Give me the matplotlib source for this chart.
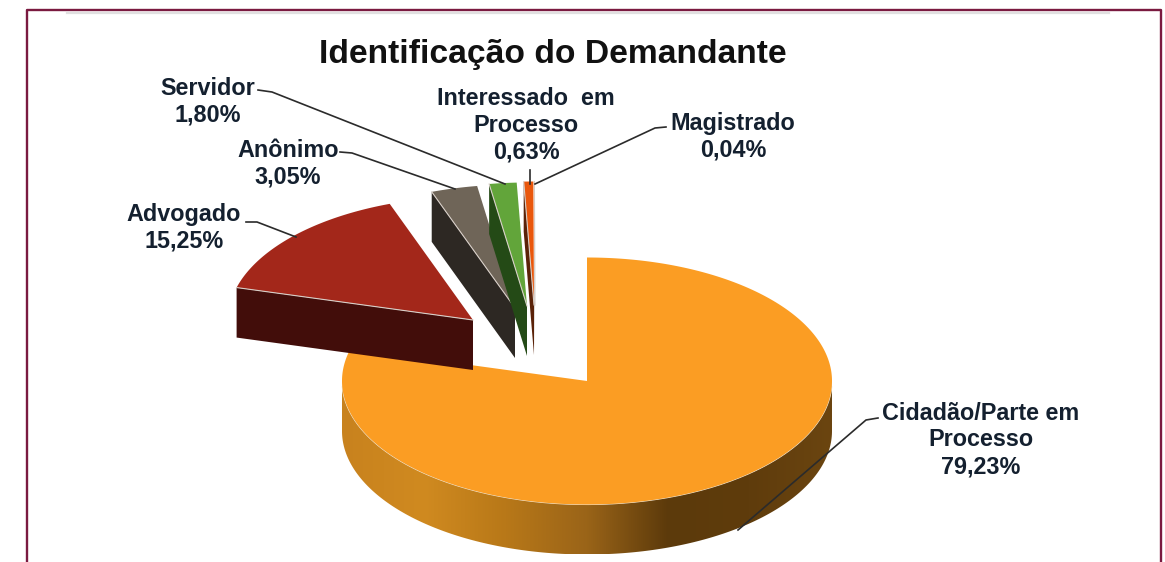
import numpy as np
import matplotlib
matplotlib.use("Agg")
import matplotlib.pyplot as plt
from matplotlib.colors import LinearSegmentedColormap
from matplotlib.patches import Polygon

labels = ["Cidadão/Parte em\nProcesso", "Advogado", "Anônimo", "Servidor", "Interessado  em\nProcesso", "Magistrado"]
values = [79.23, 15.25, 3.05, 1.80, 0.63, 0.04]

top_colors = ["#FB9D23", "#A3271A", "#6F6558", "#62A53A", "#E9570C", "#B9B2AA"]
side_colors = ["#B87818", "#420D0A", "#2D2823", "#244A16", "#5A2208", "#6A5A50"]

# apex of each exploded slice, in figure pixels
apex_x = [587, 473, 515, 527, 534, 535]
apex_y = [381, 320, 308, 306, 305, 305]

# where the labels and their leader lines go
label_x = [981, 184, 288, 208, 526, 733]
label_y = [440, 228, 164, 102, 125, 137]
leaders = [
    ([878, 866, 738], [418, 420, 530]),
    ([246, 257, 296], [222, 222, 237]),
    ([340, 352, 455], [152, 153, 189]),
    ([258, 272, 505], [90, 92, 184]),
    ([530, 530], [170, 184]),
    ([666, 655, 535], [127, 128, 184]),
]

RX = 245
RY = 123.5
DEPTH = 50
FRAME = "#7A1A40"

plt.rcParams["font.family"] = ["Liberation Sans", "DejaVu Sans"]


def rim(cx, cy, a0, a1, n=200):
    t = np.radians(np.linspace(a0, a1, n))
    return cx + RX * np.cos(t), cy - RY * np.sin(t)


def draw_slice(ax, i, a0, a1):
    # angles run clockwise from the top like the original chart
    cx, cy = apex_x[i], apex_y[i]
    xs, ys = rim(cx, cy, a0, a1, max(int(a0 - a1) * 2, 3))

    # cut face on the a0 side, seen only for the slices at the top left
    if i > 0:
        face = [(xs[0], ys[0]), (cx, cy), (cx, cy + DEPTH), (xs[0], ys[0] + DEPTH)]
        ax.add_patch(Polygon(face, closed=True, fc=side_colors[i], ec="none", zorder=2 + i))

    if i == 0:
        # outer wall, gradient clipped to the front part of the rim
        fx, fy = rim(cx, cy, -180, 0)
        wall = np.r_[np.c_[fx, fy], np.c_[fx[::-1], fy[::-1] + DEPTH]]
        clip = Polygon(wall, closed=True, fc="none", ec="none", transform=ax.transData)
        ax.add_patch(clip)
        cmap = LinearSegmentedColormap.from_list(
            "wall", ["#C8821E", "#D08A20", "#B87818", "#9A6418", "#5C3A0B", "#5F3C0C", "#6B4510"]
        )
        grad = np.linspace(0, 1, 256).reshape(1, -1)
        im = ax.imshow(grad, cmap=cmap, aspect="auto", zorder=1,
                       extent=(cx - RX, cx + RX, cy + RY + DEPTH, cy - RY))
        im.set_clip_path(clip)
        ax.plot(fx[3:-3], fy[3:-3], color="#EFE6D6", lw=0.8, zorder=1.6)

    top = np.r_[[(cx, cy)], np.c_[xs, ys]]
    ax.add_patch(Polygon(top, closed=True, fc=top_colors[i], ec="none", zorder=2.5 + i))
    if i > 0:
        ax.plot([xs[0], cx], [ys[0], cy], color="#D8CFC8", lw=0.8, zorder=2.6 + i)


fig = plt.figure(figsize=(11.65, 5.62), dpi=100)
ax = fig.add_axes([0, 0, 1, 1])

start = 90.0
for i, v in enumerate(values):
    end = start - v * 3.6
    draw_slice(ax, i, start, end)
    start = end

for i, name in enumerate(labels):
    pct = f"{values[i]:.2f}".replace(".", ",") + "%"
    ax.text(label_x[i], label_y[i], name + "\n" + pct, ha="center", va="center",
            fontsize=16.8, fontweight="bold", color="#14202F", linespacing=1.2, zorder=20)
    ax.plot(leaders[i][0], leaders[i][1], color="#2B2B2B", lw=1.2, zorder=15)

ax.text(553, 54, "Identificação do Demandante", ha="center", va="center",
        fontsize=24.2, fontweight="bold", color="#111111", zorder=20)

# frame around the slide, open at the bottom
ax.plot([27, 27, 1161, 1161], [562, 9.5, 9.5, 562], color=FRAME, lw=1.7, zorder=30)
ax.plot([67, 1109], [13, 13], color="#E0E0E0", lw=1.6, zorder=30)

ax.set_xlim(0, 1165)
ax.set_ylim(562, 0)
ax.axis("off")
fig.savefig("out.png", dpi=100)
